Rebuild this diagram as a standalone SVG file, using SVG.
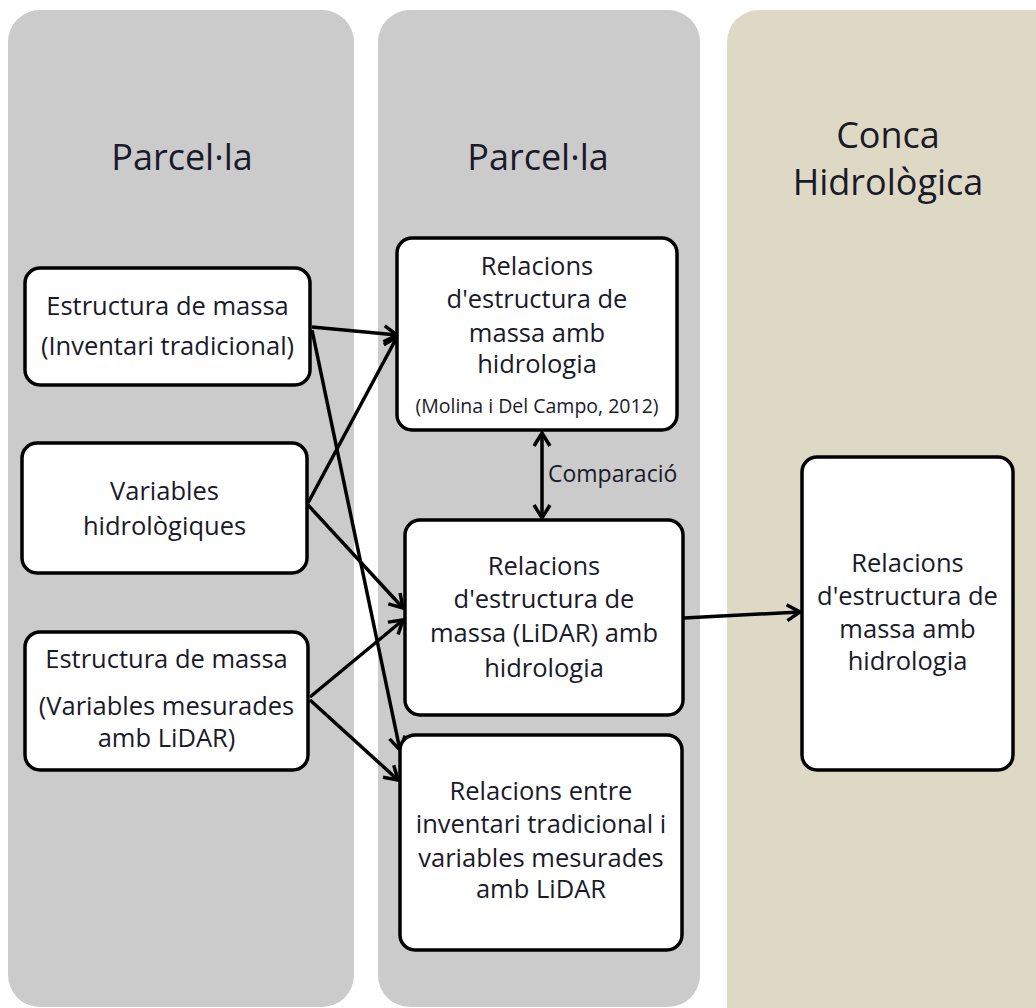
<svg xmlns="http://www.w3.org/2000/svg" width="1036" height="1008" viewBox="0 0 1036 1008">
  <style>
    .panel-gray { fill: #cbcbcb; }
    .panel-beige { fill: #ddd9c4; }
    .box { fill: #ffffff; stroke: #000000; stroke-width: 3.5; }
    .title { font-family: "Open Sans", "Liberation Sans", sans-serif; font-size: 36px; fill: #1a1a2a; text-anchor: middle; }
    .label { font-family: "Open Sans", "Liberation Sans", sans-serif; font-size: 25.5px; fill: #1a1a2a; text-anchor: middle; }
    .small { font-family: "Open Sans", "Liberation Sans", sans-serif; font-size: 19.5px; fill: #1a1a2a; text-anchor: middle; }
    .comp { font-family: "Open Sans", "Liberation Sans", sans-serif; font-size: 23px; fill: #1a1a2a; }
    .conn { stroke: #000000; stroke-width: 3.5; fill: none; marker-end: url(#arrow); }
  </style>
  <defs>
    <marker id="arrow" markerUnits="userSpaceOnUse" markerWidth="22" markerHeight="22" refX="16" refY="11" orient="auto-start-reverse">
      <path d="M3,3 L16,11 L3,19" fill="none" stroke="#000000" stroke-width="3.5" stroke-linejoin="miter"/>
    </marker>
  </defs>

  <g id="panels">
    <rect id="panel-left" class="panel-gray" x="8" y="10" width="346" height="997" rx="32"/>
    <rect id="panel-middle" class="panel-gray" x="378" y="10" width="322" height="997" rx="32"/>
    <rect id="panel-right" class="panel-beige" x="727" y="10" width="340" height="1040" rx="32"/>
    <text class="title" x="182" y="170">Parcel·la</text>
    <text class="title" x="538" y="170">Parcel·la</text>
    <text class="title" x="888" y="148">Conca</text>
    <text class="title" x="888" y="195">Hidrològica</text>
  </g>

  <g id="connectors">
    <line class="conn" x1="312" y1="327" x2="397" y2="335"/>
    <line class="conn" x1="312" y1="330" x2="400" y2="750"/>
    <line class="conn" x1="308" y1="503" x2="397" y2="337"/>
    <line class="conn" x1="308" y1="505" x2="403" y2="608"/>
    <line class="conn" x1="310" y1="697" x2="403" y2="620"/>
    <line class="conn" x1="310" y1="700" x2="398" y2="780"/>
    <line class="conn" x1="542" y1="433" x2="542" y2="518" style="marker-start: url(#arrow);"/>
    <line class="conn" x1="684" y1="618" x2="800" y2="612"/>
    <text class="comp" x="548" y="482">Comparació</text>
  </g>

  <g id="node-a">
    <rect class="box" x="25" y="268" width="285" height="117" rx="15"/>
    <text class="label" x="167.5" y="315">Estructura de massa</text>
    <text class="label" x="167.5" y="355">(Inventari tradicional)</text>
  </g>

  <g id="node-b">
    <rect class="box" x="22" y="443" width="285" height="130" rx="15"/>
    <text class="label" x="164.5" y="500">Variables</text>
    <text class="label" x="164.5" y="535">hidrològiques</text>
  </g>

  <g id="node-c">
    <rect class="box" x="25" y="632" width="283" height="138" rx="15"/>
    <text class="label" x="166.5" y="668">Estructura de massa</text>
    <text class="label" x="166.5" y="715">(Variables mesurades</text>
    <text class="label" x="166.5" y="747">amb LiDAR)</text>
  </g>

  <g id="node-d">
    <rect class="box" x="397" y="238" width="280" height="192" rx="15"/>
    <text class="label" x="537" y="275">Relacions</text>
    <text class="label" x="537" y="308">d'estructura de</text>
    <text class="label" x="537" y="342">massa amb</text>
    <text class="label" x="537" y="373">hidrologia</text>
    <text class="small" x="537" y="413">(Molina i Del Campo, 2012)</text>
  </g>

  <g id="node-e">
    <rect class="box" x="405" y="520" width="278" height="195" rx="15"/>
    <text class="label" x="544" y="575">Relacions</text>
    <text class="label" x="544" y="608">d'estructura de</text>
    <text class="label" x="544" y="642">massa (LiDAR) amb</text>
    <text class="label" x="544" y="677">hidrologia</text>
  </g>

  <g id="node-f">
    <rect class="box" x="400" y="735" width="282" height="215" rx="15"/>
    <text class="label" x="541" y="800">Relacions entre</text>
    <text class="label" x="541" y="833">inventari tradicional i</text>
    <text class="label" x="541" y="867">variables mesurades</text>
    <text class="label" x="541" y="898">amb LiDAR</text>
  </g>

  <g id="node-g">
    <rect class="box" x="802" y="457" width="211" height="313" rx="15"/>
    <text class="label" x="907.5" y="572">Relacions</text>
    <text class="label" x="907.5" y="605">d'estructura de</text>
    <text class="label" x="907.5" y="638">massa amb</text>
    <text class="label" x="907.5" y="670">hidrologia</text>
  </g>
</svg>
